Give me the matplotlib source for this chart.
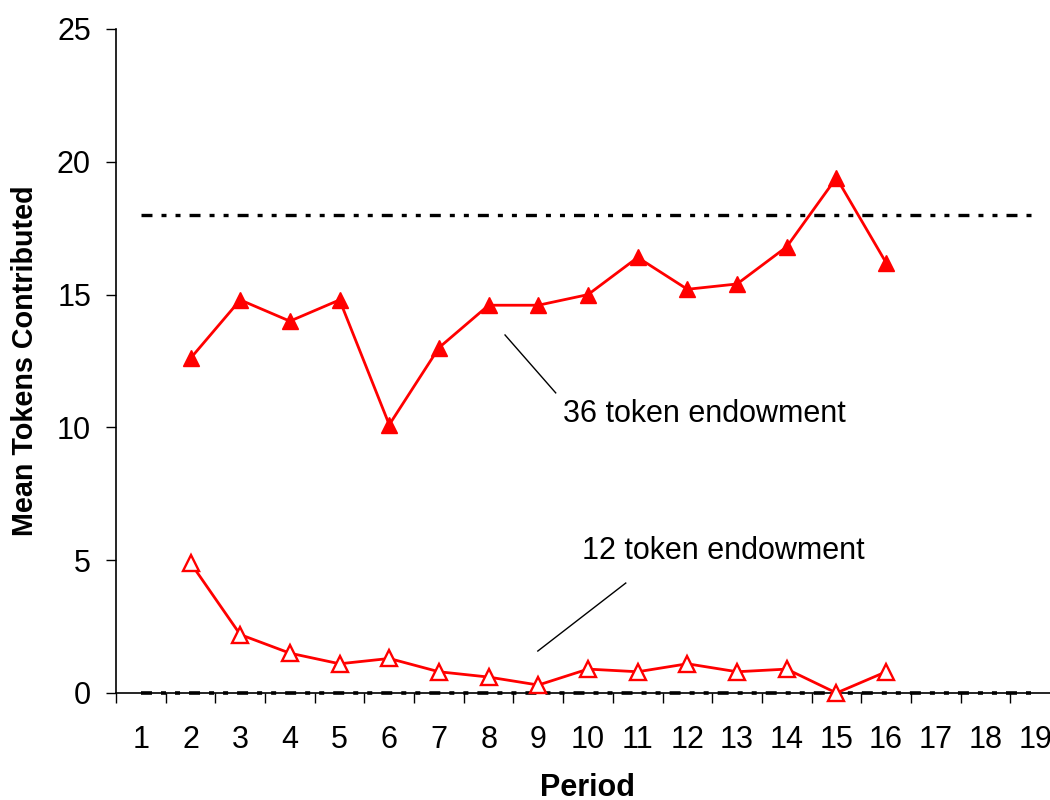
import matplotlib
matplotlib.use("Agg")
import matplotlib.pyplot as plt

plt.rcParams['font.family'] = ['Liberation Sans', 'DejaVu Sans']
plt.rcParams['lines.scale_dashes'] = False

# data
periods = list(range(2, 17))
endow36 = [12.6, 14.8, 14.0, 14.8, 10.1, 13.0, 14.6, 14.6, 15.0, 16.4, 15.2, 15.4, 16.8, 19.4, 16.2]
endow12 = [4.9, 2.2, 1.5, 1.1, 1.3, 0.8, 0.6, 0.3, 0.9, 0.8, 1.1, 0.8, 0.9, 0.0, 0.8]
ref_periods = [1, 19]
ref_high = [18, 18]
ref_low = [0, 0]
tick_labels = [str(i) for i in range(1, 20)]

fig = plt.figure(figsize=(10.5, 8), dpi=100)
ax = fig.add_axes([116 / 1050, 1 - 693 / 800, 944 / 1050, 664 / 800])

dashdotdot = (0, (7.9, 6.5, 3.6, 6.5, 3.6, 6.5))
ax.plot(ref_periods, ref_high, color='black', lw=2.4, linestyle=dashdotdot)
ax.plot(ref_periods, ref_low, color='black', lw=2.6, linestyle=dashdotdot,
        zorder=3, clip_on=False)

ax.plot(periods, endow36, color='#ff0000', lw=2.0, marker='^', markersize=11,
        markerfacecolor='#ff0000', markeredgecolor='#ff0000', zorder=4)
ax.plot(periods, endow12, color='#ff0000', lw=2.0, marker='^', markersize=11,
        markerfacecolor='white', markeredgecolor='#ff0000', markeredgewidth=1.7,
        zorder=4, clip_on=False)

# annotations
ax.plot([8.33, 9.35], [13.48, 11.30], color='black', lw=1.0)
ax.text(9.49, 10.5, '36 token endowment', fontsize=22, va='center', ha='left')
ax.plot([8.99, 10.76], [1.58, 4.14], color='black', lw=1.0)
ax.text(9.88, 5.35, '12 token endowment', fontsize=22, va='center', ha='left')

ax.set_xlim(0.5, 19.5)
ax.set_ylim(0, 25)
ax.set_yticks([0, 5, 10, 15, 20, 25])
ax.set_xticks(range(1, 20))
ax.set_xticklabels(tick_labels)
ax.set_xticks([i + 0.5 for i in range(0, 20)], minor=True)

ax.spines['top'].set_visible(False)
ax.spines['right'].set_visible(False)
ax.spines['left'].set_linewidth(1.2)
ax.spines['bottom'].set_linewidth(1.2)
ax.spines['bottom'].set_zorder(2)

ax.tick_params(axis='y', direction='out', length=7, width=1.0, pad=11, labelsize=22)
ax.tick_params(axis='x', which='major', length=0, pad=23, labelsize=22)
ax.tick_params(axis='x', which='minor', direction='out', length=7, width=1.0)

ax.set_xlabel('Period', fontsize=22, fontweight='bold', labelpad=13)
ax.set_ylabel('Mean Tokens Contributed', fontsize=20.7, fontweight='bold', labelpad=13)

fig.savefig('out.png', dpi=100)
